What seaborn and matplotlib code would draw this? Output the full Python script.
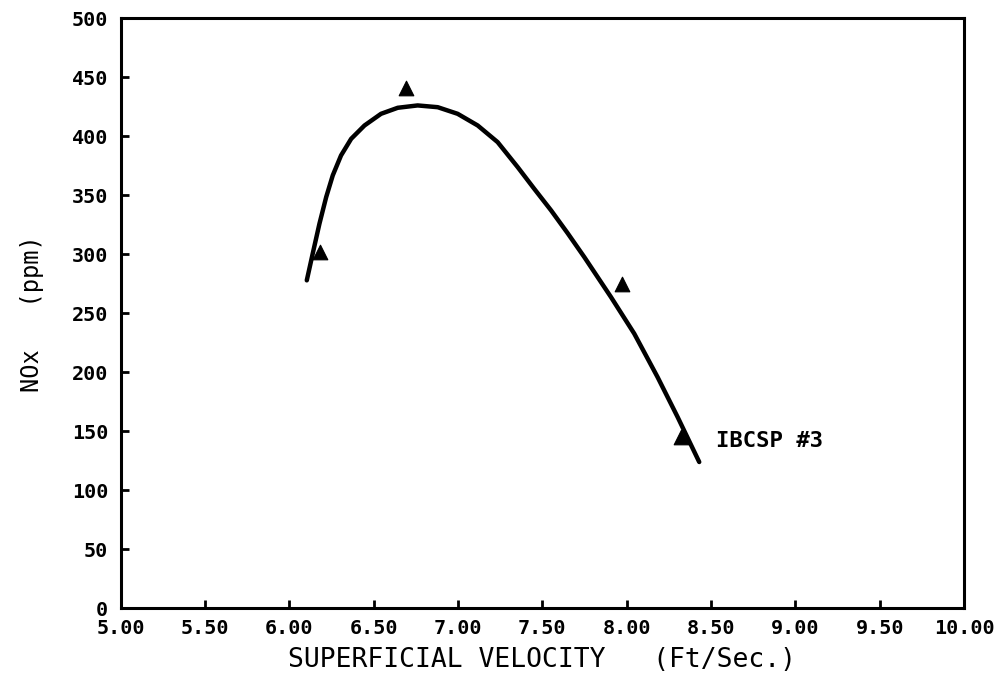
import matplotlib
matplotlib.use("Agg")
import matplotlib.pyplot as plt
import seaborn as sns
import pandas as pd

# === Data ===
velocity_pts = [6.18, 6.69, 7.97, 8.32]
nox_pts = [302, 441, 275, 145]

# hand-drawn fit curve, traced point by point
curve_x = [6.104, 6.139, 6.179, 6.219, 6.258, 6.307, 6.367, 6.446, 6.544,
           6.643, 6.761, 6.880, 6.998, 7.117, 7.235, 7.354, 7.450, 7.552,
           7.650, 7.749, 7.907, 8.045, 8.183, 8.302, 8.430]
curve_y = [278, 300.6, 326, 348.6, 367, 383.9, 398, 409.3, 419.2,
           424.3, 426.3, 424.8, 419.2, 409.3, 395.2, 374, 356, 337.3,
           318, 297.7, 263.8, 232.8, 196, 162.1, 124]

x_ticks = [5.0, 5.5, 6.0, 6.5, 7.0, 7.5, 8.0, 8.5, 9.0, 9.5, 10.0]
y_ticks = [0, 50, 100, 150, 200, 250, 300, 350, 400, 450, 500]
series_label = "IBCSP #3"

pts = pd.DataFrame({"v": velocity_pts, "nox": nox_pts})
curve = pd.DataFrame({"v": curve_x, "nox": curve_y})

# === Plot ===
sns.set_style("ticks")
plt.rcParams["font.family"] = ["DejaVu Sans Mono", "DejaVu Sans"]
plt.rcParams["text.color"] = "black"
plt.rcParams["axes.labelcolor"] = "black"

fig = plt.figure(figsize=(9.96, 6.85), dpi=100)
ax = fig.add_axes([0.121, 0.112, 0.847, 0.861])

sns.lineplot(data=curve, x="v", y="nox", color="black", linewidth=3.2,
             sort=False, ax=ax, solid_joinstyle="round",
             solid_capstyle="round")
sns.scatterplot(data=pts, x="v", y="nox", marker="^", color="black",
                s=110, edgecolor="black", ax=ax, zorder=3)

ax.text(8.53, 142, series_label, fontsize=16, fontweight="bold",
        va="center", ha="left", color="black")

ax.set_xlim(5, 10)
ax.set_ylim(0, 500)
ax.set_xticks(x_ticks)
ax.set_xticklabels([f"{t:.2f}" for t in x_ticks])
ax.set_yticks(y_ticks)
ax.set_yticklabels([str(t) for t in y_ticks])

ax.tick_params(direction="in", length=6, width=2, labelsize=14.5,
               colors="black")
ax.tick_params(axis="x", pad=8)
ax.tick_params(axis="y", pad=9)
for lbl in ax.get_xticklabels() + ax.get_yticklabels():
    lbl.set_fontweight("bold")

for side in ["left", "right", "top", "bottom"]:
    ax.spines[side].set_visible(True)
    ax.spines[side].set_linewidth(2.2)
    ax.spines[side].set_color("black")

ax.set_xlabel("SUPERFICIAL VELOCITY   (Ft/Sec.)", fontsize=19, labelpad=6)
ax.set_ylabel("NOx   (ppm)", fontsize=17, labelpad=20)

fig.savefig("out.png", dpi=100, facecolor="white")
